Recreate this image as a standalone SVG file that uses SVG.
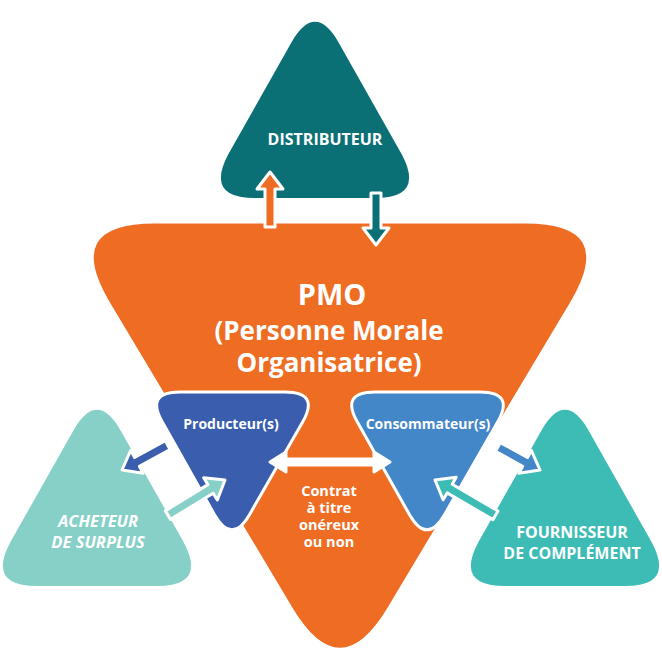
<svg xmlns="http://www.w3.org/2000/svg" width="662" height="663" viewBox="0 0 662 663">
<style>
text{font-family:"Open Sans","Lato","Liberation Sans",sans-serif;font-weight:bold;fill:#fff;text-anchor:middle}
.arr{stroke:#fff;stroke-width:3;stroke-linejoin:round}
</style>
<defs>
<path id="up" d="M339.3,43.7 L401.7,154.3 Q425,198 375,198 L255,198 Q205,198 228.3,154.3 L290.7,43.7 Q315,0 339.3,43.7 Z"/>
<path id="inv" d="M180,392 L285,392 Q320,392 302.5,422.3 L249.5,514.7 Q232,545 214.5,514.7 L162.5,422.3 Q145,392 180,392 Z"/>
</defs>
<rect width="662" height="663" fill="#fff"/>
<g id="distributeur">
<use href="#up" fill="#0b7075"/>
<text x="325" y="145" font-size="16">DISTRIBUTEUR</text>
</g>
<g id="acheteur">
<use href="#up" fill="#86d0c8" transform="translate(-218,388)"/>
<text x="98" y="527" font-size="16.5" font-style="italic">ACHETEUR</text>
<text x="98" y="548" font-size="16.5" font-style="italic">DE SURPLUS</text>
</g>
<g id="fournisseur">
<use href="#up" fill="#3cbcb4" transform="translate(250,388)"/>
<text x="572" y="538" font-size="16">FOURNISSEUR</text>
<text x="572" y="559" font-size="16">DE COMPLÉMENT</text>
</g>
<g id="pmo">
<path d="M155,222 L525,222 Q620,222 571.2,303.5 L388.8,608.5 Q340,690 291.2,608.5 L108.8,303.5 Q60,222 155,222 Z" fill="#ef6c23" stroke="#fff" stroke-width="3"/>
<text x="332" y="305" font-size="29">PMO</text>
<text x="329" y="340" font-size="26" font-weight="600">(Personne Morale</text>
<text x="329" y="372" font-size="26" font-weight="600">Organisatrice)</text>
<text x="329" y="496" font-size="14.5">Contrat</text>
<text x="329" y="513" font-size="14.5">à titre</text>
<text x="329" y="530" font-size="14.5">onéreux</text>
<text x="329" y="547" font-size="14.5">ou non</text>
</g>
<g id="producteur">
<use href="#inv" fill="#3a5ead" stroke="#fff" stroke-width="3"/>
<text x="231" y="429" font-size="14">Producteur(s)</text>
</g>
<g id="consommateur">
<use href="#inv" fill="#4487c8" stroke="#fff" stroke-width="3" transform="translate(195,0)"/>
<text x="428" y="429" font-size="14">Consommateur(s)</text>
</g>
<g id="connectors">
<polygon class="arr" fill="#ef6c23" transform="translate(270,172) rotate(-90)" points="-55,-5 -17,-5 -17,-13 0,0 -17,13 -17,5 -55,5"/>
<polygon class="arr" fill="#0b7075" transform="translate(376,245) rotate(90)" points="-52,-5 -17,-5 -17,-13 0,0 -17,13 -17,5 -52,5"/>
<polygon class="arr" fill="#3a5ead" transform="translate(122,470) rotate(151.5)" points="-52,-5 -17,-5 -17,-13 0,0 -17,13 -17,5 -52,5"/>
<polygon class="arr" fill="#86d0c8" transform="translate(225,480) rotate(-31.6)" points="-67,-5 -17,-5 -17,-13 0,0 -17,13 -17,5 -67,5"/>
<polygon class="arr" fill="#4487c8" transform="translate(540,470) rotate(28.7)" points="-48,-5 -17,-5 -17,-13 0,0 -17,13 -17,5 -48,5"/>
<polygon class="arr" fill="#3cbcb4" transform="translate(435,480) rotate(-149.7)" points="-70,-5 -17,-5 -17,-13 0,0 -17,13 -17,5 -70,5"/>
<polygon class="arr" fill="#fff" stroke="#fff" points="270,462 286,452 286,459 374,459 374,452 390,462 374,472 374,465 286,465 286,472"/>
</g>
</svg>
